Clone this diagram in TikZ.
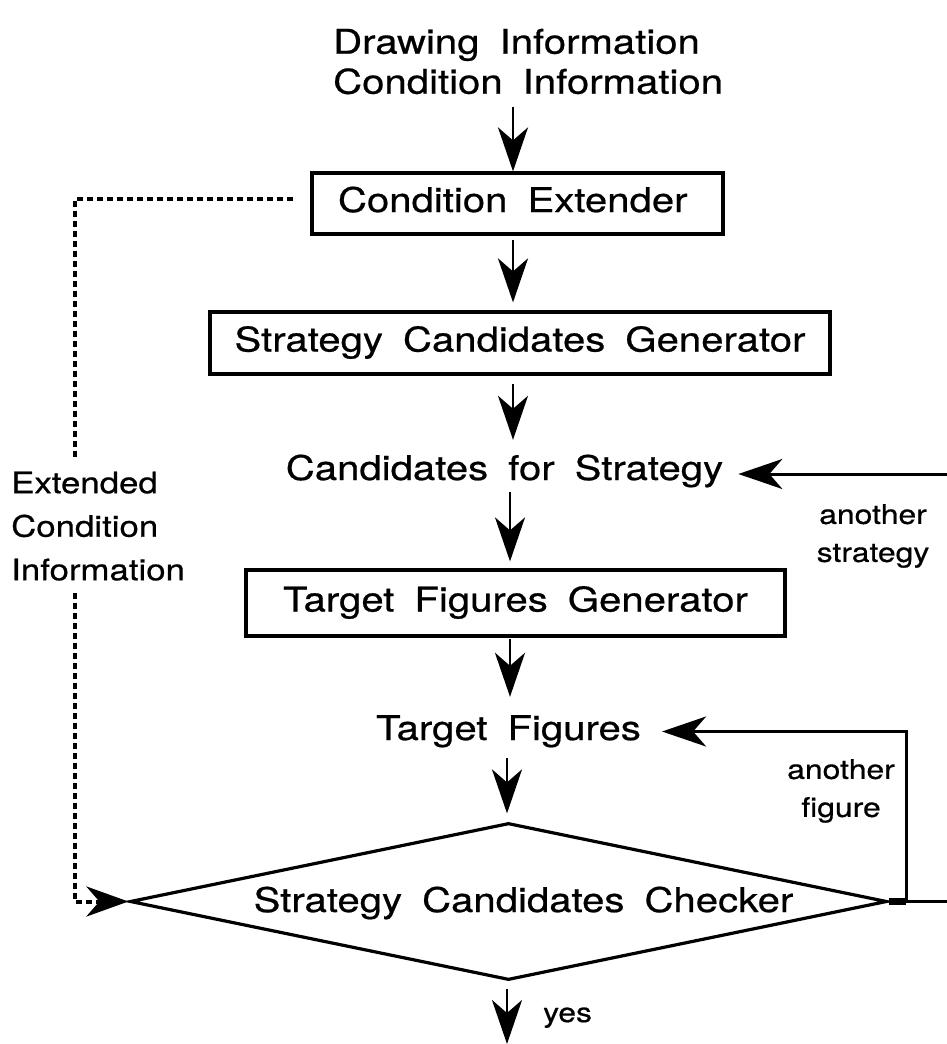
\documentclass[tikz,border=0pt]{standalone}
\usepackage{fontspec}
\setmainfont{TeX Gyre Heros}[FakeStretch=1.18,WordSpace=1.8,FakeBold=0.6]
\usetikzlibrary{arrows.meta,shapes.geometric}

\tikzset{
  big/.style={font=\fontsize{34}{40}\selectfont, inner sep=0pt},
  mid/.style={font=\fontsize{29.5}{43.5}\selectfont, inner sep=0pt},
  small/.style={font=\fontsize{27}{38}\selectfont, inner sep=0pt},
  box/.style={draw, line width=3.2pt, big, text height=24pt, text depth=7pt},
  flowtip/.style={-{Stealth[length=44pt,width=30pt,inset=13pt]}},
  flow/.style={line width=2.8pt, flowtip},
  loopline/.style={line width=3pt},
  dots/.style={line width=4pt, dash pattern=on 6pt off 4pt},
}

\begin{document}
\begin{tikzpicture}[x=1pt,y=-1pt]
\useasboundingbox (0,0) rectangle (947,1044);

% column and rail coordinates
\coordinate (colA) at (513,0);
\coordinate (colB) at (510,0);
\coordinate (colC) at (507,0);
\coordinate (rail) at (75,0);
\coordinate (loopx) at (906,0);
\coordinate (rim) at (947,0);
\coordinate (sin) at (947,474);
\coordinate (out) at (507,1044);

% inputs
\node[big, align=left, anchor=south west] (src) at (333,94.5)
  {Drawing Information\\Condition Information};

% processing boxes
\node[box, minimum width=411pt, minimum height=61pt, text width=359pt,
      align=flush left, inner xsep=26pt] (ext) at (517.5,203.5) {Condition Extender};
\node[box, minimum width=620pt, minimum height=62pt] (scg) at (520,343)
  {Strategy Candidates Generator};
\node[box, minimum width=539pt, minimum height=66pt] (tfg) at (515.5,603)
  {Target Figures Generator};

% intermediate results
\node[big, anchor=base, text height=24pt, text depth=7pt] (cand) at (504.5,480)
  {Candidates for Strategy};
\node[big, anchor=base, text height=24pt, text depth=7pt] (tf) at (508.5,740)
  {Target Figures};

% decision
\node[draw, diamond, line width=3.2pt, inner sep=0pt, aspect=4.82,
      minimum width=757pt, minimum height=157pt] (dia) at (508.5,901.5) {};
\node[big, anchor=base] (chk) at (523.5,912) {Strategy Candidates Checker};

% side labels
\node[mid, align=left, anchor=north west] (ecl) at (11,471.5)
  {Extended\\Condition\\Information};
\node[small, align=center, anchor=north] (lstr) at (873,504) {another\\strategy};
\node[small, align=center, anchor=north] (lfig) at (841,759) {another\\figure};
\node[small, anchor=base west] (yes) at (543,1022) {yes};

% main flow
\draw[flow, shorten <=12.5pt] (colA |- src.south) -- (colA |- ext.north);
\draw[flow, shorten <=4pt, shorten >=8pt] (colA |- ext.south) -- (colA |- scg.north);
\draw[flow, shorten <=8pt, shorten >=16pt] (colA |- scg.south) -- (colA |- cand.north);
\draw[flow, shorten <=5pt, shorten >=7pt] (colB |- cand.south) -- (colB |- tfg.north);
\draw[flow, shorten <=1pt, shorten >=19pt] (colB |- tfg.south) -- (colB |- tf.north);
\draw[flow, shorten <=11pt, shorten >=8pt] (colC |- tf.south) -- (colC |- dia.north);
\draw[flow, shorten <=7pt] (colC |- dia.south) -- (out);

% feedback loops
\draw[loopline, flowtip, shorten >=15pt] (sin) -- (cand.east |- sin);
\draw[loopline] (dia.east) -- (dia.east -| rim);
\draw[line width=7pt] (dia.east) -- (dia.east -| loopx);
\draw[loopline, flowtip, shorten >=21pt]
  (dia.east -| loopx) -- (loopx |- tf.east) -- (tf.east);

% extended condition information
\coordinate (extl) at ([yshift=4.5pt]ext.west);
\draw[dots, shorten <=17pt, shorten >=13pt]
  (extl) -- (rail |- extl) -- (rail |- ecl.north);
\draw[dots, -{Stealth[length=42pt,width=30pt,inset=13pt]}, shorten <=12pt]
  (rail |- ecl.south) -- (rail |- dia.west) -- (dia.west);
\end{tikzpicture}
\end{document}
